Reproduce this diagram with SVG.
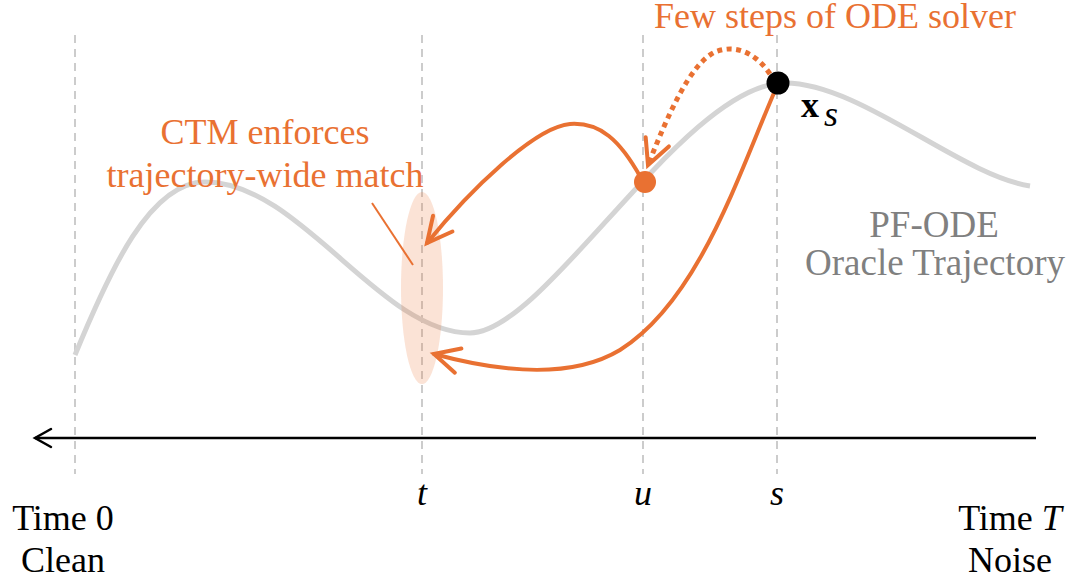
<svg xmlns="http://www.w3.org/2000/svg" width="1072" height="583" viewBox="0 0 1072 583">
<style>
text{font-family:"Liberation Serif","Times New Roman",serif;font-size:36px}
.or{fill:#E97132}
.gr{fill:#808080;font-size:37px}
.blk{fill:#000}
.it{font-style:italic}
.guide{stroke:#CCCCCC;stroke-width:2;stroke-dasharray:8 6;fill:none}
.arr{stroke:#E97132;stroke-width:4;fill:none;stroke-linecap:round}
.dot{stroke:#E97132;stroke-width:5;fill:none;stroke-dasharray:5 4.5;stroke-linecap:butt}
</style>
<defs>
<marker id="ah" markerUnits="userSpaceOnUse" orient="auto" refX="0" refY="0" markerWidth="40" markerHeight="40" overflow="visible">
<path d="M -25 -12.5 L 0 0 L -25 12.5" fill="none" stroke="#E97132" stroke-width="4" stroke-linecap="round"/>
</marker>
<marker id="ahk" markerUnits="userSpaceOnUse" orient="auto" refX="0" refY="0" markerWidth="30" markerHeight="30" overflow="visible">
<path d="M -16 -9 L 0 0 L -16 9" fill="none" stroke="#000" stroke-width="2.5" stroke-linecap="round"/>
</marker>
</defs>
<g id="guides">
<line class="guide" x1="75" y1="35" x2="75" y2="474"/>
<line class="guide" x1="422" y1="35" x2="422" y2="474"/>
<line class="guide" x1="643" y1="35" x2="643" y2="474"/>
<line class="guide" x1="777" y1="35" x2="777" y2="474"/>
</g>
<g id="trajectory">
<path d="M 75 355 C 110 270, 150 182, 205 182 C 300 182, 380 333, 470 333 C 545 333, 685 83, 785 83 C 860 83, 960 175, 1030 186" fill="none" stroke="#D4D4D4" stroke-width="5"/>
</g>
<g id="match-ellipse">
<ellipse cx="422" cy="288" rx="21" ry="96" fill="#E97132" fill-opacity="0.2"/>
<line x1="372" y1="203" x2="413" y2="265" stroke="#E97132" stroke-width="2"/>
</g>
<g id="connectors">
<path class="arr" d="M 641 178 C 620 140, 600 122, 570 124 C 535 127, 470 190, 427 243" marker-end="url(#ah)"/>
<path class="arr" d="M 777 86 C 740 170, 700 300, 620 350 C 570 380, 500 372, 434 354" marker-end="url(#ah)"/>
<path class="dot" d="M 770 74 C 755 52, 735 44, 715 52 C 690 64, 668 115, 648 165" marker-end="url(#ah)"/>
<line x1="1036" y1="438" x2="35" y2="438" stroke="#000" stroke-width="2.5" marker-end="url(#ahk)"/>
</g>
<g id="node-xu">
<circle cx="645" cy="182" r="11" fill="#E97132"/>
</g>
<g id="node-xs">
<circle cx="778" cy="83" r="11.5" fill="#000"/>
<text x="801" y="117" class="blk" font-weight="bold">x</text>
<text x="824" y="126" class="blk it" font-size="24">s</text>
</g>
<g id="labels">
<text x="835" y="28" class="or" text-anchor="middle">Few steps of ODE solver</text>
<text x="265" y="144" class="or" text-anchor="middle">CTM enforces</text>
<text x="265" y="187" class="or" text-anchor="middle">trajectory-wide match</text>
<text x="934" y="237" class="gr" text-anchor="middle">PF-ODE</text>
<text x="935" y="275" class="gr" text-anchor="middle">Oracle Trajectory</text>
<text x="422" y="505" class="blk it" text-anchor="middle">t</text>
<text x="643" y="505" class="blk it" text-anchor="middle">u</text>
<text x="777" y="505" class="blk it" text-anchor="middle">s</text>
<text x="63" y="530" class="blk" text-anchor="middle">Time 0</text>
<text x="63" y="572" class="blk" text-anchor="middle">Clean</text>
<text x="1010" y="530" class="blk" text-anchor="middle">Time <tspan class="it">T</tspan></text>
<text x="1010" y="572" class="blk" text-anchor="middle">Noise</text>
</g>
</svg>
